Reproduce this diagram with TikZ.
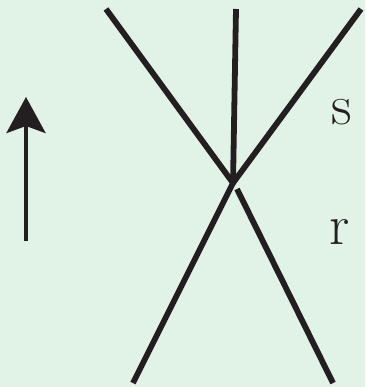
\documentclass[tikz,border=0pt]{standalone}
\usetikzlibrary{arrows.meta}
\definecolor{bg}{HTML}{E1F2E6}
\definecolor{ink}{HTML}{231F20}
\begin{document}
\begin{tikzpicture}[x=1pt,y=-1pt,
  strand/.style={draw=ink,line width=5.8pt},
  lab/.style={text=ink,font=\fontsize{57}{62}\selectfont,inner sep=0pt},
  flow/.style={draw=ink,line width=4.3pt,-{Stealth[length=36pt,width=39pt,inset=7pt]}}]
\fill[bg] (0,0) rectangle (365,387);
\useasboundingbox (0,0) rectangle (365,387);
\coordinate (v) at (233,183);
\coordinate (v2) at (237,189);
\coordinate (tl) at (106,9);
\coordinate (tm) at (236,9);
\coordinate (tr) at (361,9);
\coordinate (bl) at (133,383);
\coordinate (br) at (333,383);
\draw[strand] (tl) -- (v);
\draw[strand] (tm) -- (v);
\draw[strand] (tr) -- (v);
\draw[strand] (v) -- (bl);
\draw[strand] (v2) -- (br);
\coordinate (a0) at (26,241);
\coordinate (a1) at (26,97);
\draw[flow] (a0) -- (a1);
\node[lab] (s) at (342,112) {s};
\node[lab] (r) at (340,232) {r};
\end{tikzpicture}
\end{document}
